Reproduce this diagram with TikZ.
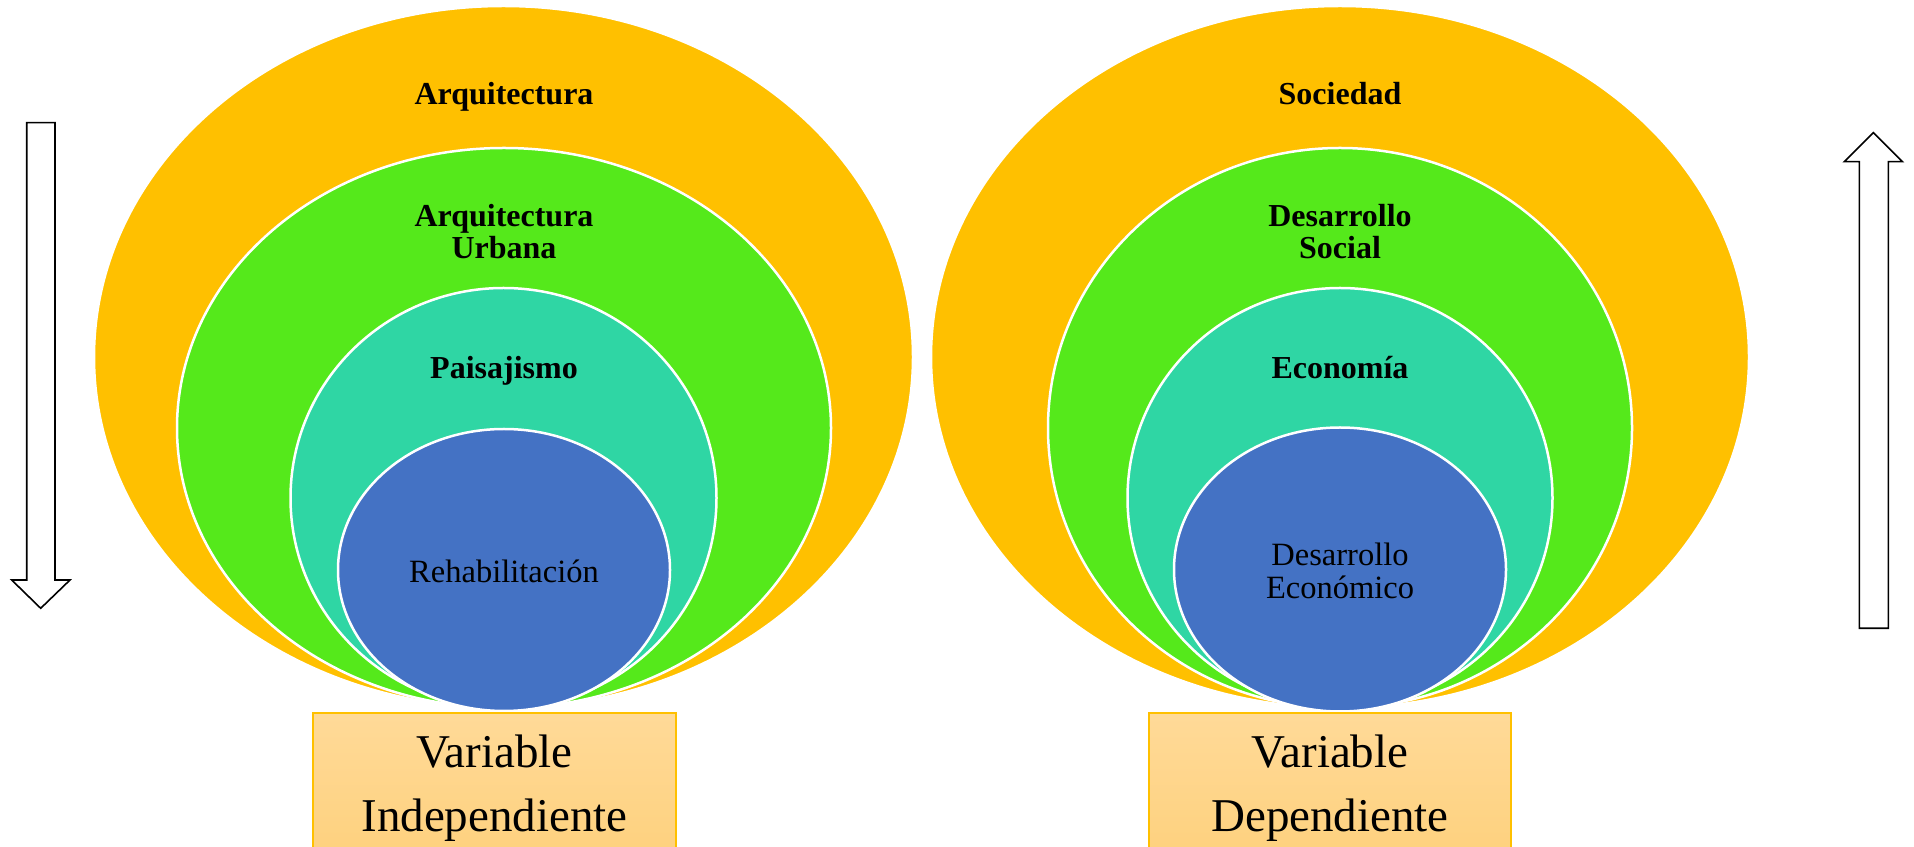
\documentclass[tikz,border=0pt]{standalone}
\usepackage{fontspec}
\setmainfont{Liberation Serif}
\usetikzlibrary{shapes.geometric}
\definecolor{cOrange}{HTML}{FFC000}
\definecolor{cGreen}{HTML}{55E91B}
\definecolor{cTeal}{HTML}{2FD6A4}
\definecolor{cBlue}{HTML}{4472C4}
\definecolor{cBoxTop}{HTML}{FFDA98}
\definecolor{cBoxBot}{HTML}{FED17E}
\tikzset{
  ring/.style={ellipse, draw=white, line width=2.5pt, inner sep=0pt},
  lbl/.style={anchor=base, inner sep=0pt, font=\fontsize{32}{33}\selectfont\bfseries},
  lblr/.style={anchor=base, inner sep=0pt, font=\fontsize{32.5}{33}\selectfont},
  varbox/.style={draw=cOrange, line width=1.3pt, top color=cBoxTop, bottom color=cBoxBot},
  boxtxt/.style={anchor=base, inner sep=0pt, font=\fontsize{47}{64}\selectfont},
  fatarrow/.style={draw=black, line width=1.6pt, fill=white, line join=miter}
}
\begin{document}
\begin{tikzpicture}[x=1pt,y=1pt]
\useasboundingbox (0,0) rectangle (1914,846);
\clip (0,0) rectangle (1914,846);
% left group
\node[ring, fill=cOrange, minimum width=819pt, minimum height=702pt] (lo) at (503.5,489) {};
\node[ring, fill=cGreen, minimum width=654pt, minimum height=560pt] (lg) at (504,418) {};
\node[ring, fill=cTeal, minimum width=426pt, minimum height=420pt] (lt) at (503.5,348) {};
\node[ring, fill=cBlue, minimum width=332pt, minimum height=282pt] (lb) at (504,276) {};
\node[lbl] (l1) at (504,741) {Arquitectura};
\node[lbl] (l2a) at (504,619.5) {Arquitectura};
\node[lbl] (l2b) at (504,587) {Urbana};
\node[lbl] (l3) at (504,467) {Paisajismo};
\node[lblr] (l4) at (504,263.3) {Rehabilitación};
% right group
\node[ring, fill=cOrange, minimum width=818pt, minimum height=702pt] (ro) at (1340,489) {};
\node[ring, fill=cGreen, minimum width=584pt, minimum height=560pt] (rg) at (1340,418) {};
\node[ring, fill=cTeal, minimum width=425pt, minimum height=420pt] (rt) at (1340,348) {};
\node[ring, fill=cBlue, minimum width=332pt, minimum height=284pt] (rb) at (1340,276.5) {};
\node[lbl] (r1) at (1340,741) {Sociedad};
\node[lbl] (r2a) at (1340,619.5) {Desarrollo};
\node[lbl] (r2b) at (1340,587) {Social};
\node[lbl] (r3) at (1340,467) {Economía};
\node[lblr] (r4a) at (1340,280.3) {Desarrollo};
\node[lblr] (r4b) at (1340,247.7) {Económico};
% boxes
\draw[varbox] (313,-10) rectangle (676,133);
\node[boxtxt] (bi1) at (494.5,78.7) {Variable};
\node[boxtxt] (bi2) at (494.5,14.3) {Independiente};
\draw[varbox] (1149,-10) rectangle (1511,133);
\node[boxtxt] (bd1) at (1330,78.7) {Variable};
\node[boxtxt] (bd2) at (1330,14.3) {Dependiente};
% arrows
\draw[fatarrow] (26.7,723.3) -- (55,723.3) -- (55,266) -- (70,266) -- (40.7,237.7) -- (11.7,266) -- (26.7,266) -- cycle;
\draw[fatarrow] (1859.3,217.7) -- (1888.3,217.7) -- (1888.3,684.3) -- (1902.3,684.3) -- (1873.3,713.3) -- (1844.3,684.3) -- (1859.3,684.3) -- cycle;
\end{tikzpicture}
\end{document}
